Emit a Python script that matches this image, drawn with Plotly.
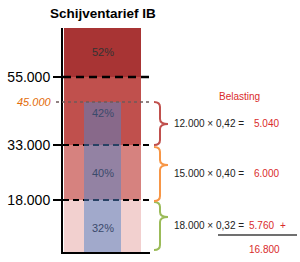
import plotly.graph_objects as go

# ---- data ----
bracket_labels = ["18.000", "33.000", "55.000"]
bracket_values = [18000, 33000, 55000]
special_label = "45.000"
# schematic (not-to-scale) vertical positions used in the original illustration
pos_0, pos_18, pos_33, pos_45, pos_55, pos_top = 0, 52, 107, 150, 175, 224
red_band_tops = [pos_18, pos_33, pos_55, pos_top]
red_band_colors = ["#F2D0CF", "#D6827F", "#C0504D", "#A83434"]
blue_top = pos_45
rate_labels = ["32%", "40%", "42%", "52%"]
rate_label_pos = [24, 79, 139, 200]
calc_lines = ["18.000 × 0,32 =", "15.000 × 0,40 =", "12.000 × 0,42 ="]
calc_results = ["5.760", "6.000", "5.040"]
calc_total = "16.800"
calc_pos = [27, 79, 128]
brace_spans = [(2, 50, 35, "#9BBB59"), (51, 105, 87, "#F79646"), (107, 150, 128, "#C0504D")]

FONT = "Liberation Sans"
W, H = 300, 262
xr = [-0.513, 0.617]
yr = [0, 224]
xdom = [63 / W, 150 / W]
ydom = [(H - 252) / H, (H - 28) / H]

fig = go.Figure()

# red stacked column
prev = 0
for top, col in zip(red_band_tops, red_band_colors):
    fig.add_trace(go.Bar(x=[0], y=[top - prev], base=prev, width=1, marker=dict(color=col, line=dict(width=0)),
                         xaxis="x", yaxis="y", showlegend=False, hoverinfo="skip"))
    prev = top

# dashed bracket lines
for yv, w, dash in [(pos_18, 2, "6px,4px"), (pos_33, 2, "6px,4px"), (pos_55, 2.5, "8px,5px")]:
    fig.add_trace(go.Scatter(x=xr, y=[yv, yv], mode="lines", line=dict(color="black", width=w, dash=dash),
                             xaxis="x", yaxis="y", showlegend=False, hoverinfo="skip", cliponaxis=False))

# blue semi-transparent overlay (on overlaid axes so it draws above lines)
fig.add_trace(go.Bar(x=[0], y=[blue_top], base=0, width=0.48, marker=dict(color="rgba(79,129,200,0.5)", line=dict(width=0)),
                     xaxis="x2", yaxis="y2", showlegend=False, hoverinfo="skip"))

fig.update_layout(
    width=W, height=H, margin=dict(l=0, r=0, t=0, b=0),
    paper_bgcolor="white", plot_bgcolor="rgba(0,0,0,0)",
    barmode="overlay", bargap=0,
    font=dict(family=FONT, color="black"),
    xaxis=dict(domain=xdom, range=xr, showline=True, linewidth=2, linecolor="black", showgrid=False,
               zeroline=False, showticklabels=False, ticks="", fixedrange=True),
    yaxis=dict(domain=ydom, range=yr, showline=True, linewidth=2, linecolor="black", showgrid=False,
               zeroline=False, tickvals=[pos_18, pos_33, pos_55], ticktext=bracket_labels,
               ticks="outside", ticklen=8, tickwidth=2, tickcolor="black",
               tickfont=dict(size=14, family=FONT, color="black")),
    xaxis2=dict(domain=xdom, range=xr, overlaying="x", visible=False, anchor="y2"),
    yaxis2=dict(domain=ydom, range=yr, overlaying="y", visible=False, anchor="x2"),
)

ann = []
ann.append(dict(text="<b>Schijventarief IB</b>", xref="paper", yref="paper", x=102.5 / W, y=(H - 14) / H,
                showarrow=False, font=dict(size=13.5, family=FONT, color="black"), xanchor="center", yanchor="middle"))
ann.append(dict(text="<i>" + special_label + "</i>", xref="paper", yref="y", x=54 / W, y=pos_45, showarrow=False,
                xanchor="right", yanchor="middle", font=dict(size=11, color="#E36C09")))
for t, yv in zip(rate_labels, rate_label_pos):
    col = "#333333" if t == rate_labels[-1] else "#3B4A6B"
    ann.append(dict(text=t, xref="x", yref="y", x=0, y=yv, showarrow=False, font=dict(size=11, color=col)))
red = "#D92B2B"
ann.append(dict(text="Belasting", xref="paper", yref="y", x=262 / W, y=155, showarrow=False,
                font=dict(size=10, color=red)))
for t, r, yv in zip(calc_lines, calc_results, calc_pos):
    ann.append(dict(text=t, xref="paper", yref="y", x=172 / W, y=yv, showarrow=False, xanchor="left",
                    font=dict(size=10, color="#222222")))
    rx = 247 if r == calc_results[0] else 252
    ann.append(dict(text=r, xref="paper", yref="y", x=rx / W, y=yv, showarrow=False, xanchor="left",
                    font=dict(size=10, color=red)))
ann.append(dict(text="+", xref="paper", yref="y", x=288 / W, y=calc_pos[0], showarrow=False,
                font=dict(size=10, color=red)))
ann.append(dict(text=calc_total, xref="paper", yref="y", x=247 / W, y=3, showarrow=False, xanchor="left",
                font=dict(size=10, color=red)))
fig.update_layout(annotations=ann)

shapes = []
# 45.000 dotted line
shapes.append(dict(type="line", xref="paper", yref="y", x0=56 / W, x1=150 / W, y0=pos_45, y1=pos_45,
                   line=dict(color="#6E5A5A", width=1.5, dash="dot"), layer="above"))
# sum line
shapes.append(dict(type="line", xref="paper", yref="y", x0=218 / W, x1=297 / W, y0=17, y1=17,
                   line=dict(color="#404040", width=1.5), layer="above"))
# braces
xh, xs, xt = 154 / W, 160 / W, 168 / W
r = 5
for yb, yt, ym, col in brace_spans:
    p = (f"M {xh},{yt} Q {xs},{yt} {xs},{yt - r} L {xs},{ym + r} Q {xs},{ym} {xt},{ym} "
         f"Q {xs},{ym} {xs},{ym - r} L {xs},{yb + r} Q {xs},{yb} {xh},{yb}")
    shapes.append(dict(type="path", xref="paper", yref="y", path=p, line=dict(color=col, width=2)))
fig.update_layout(shapes=shapes)

fig.write_html("out.html")
